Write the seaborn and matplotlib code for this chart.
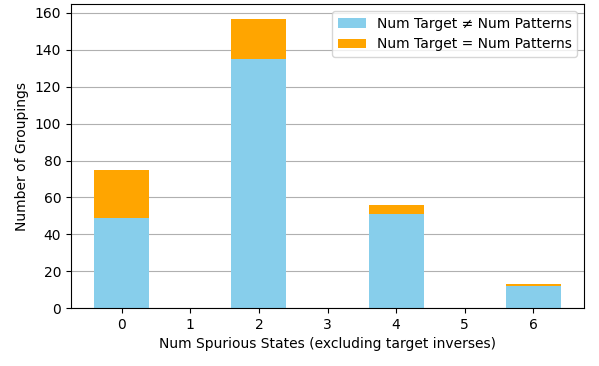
import numpy as np
import pandas as pd
import seaborn as sns
import matplotlib.pyplot as plt

spurious = [0, 2, 4, 6]
not_equal = [49, 135, 51, 12]
equal = [26, 22, 5, 1]
tick_labels = ["0", "1", "2", "3", "4", "5", "6"]

df = pd.DataFrame({"spurious": spurious, "neq": not_equal, "eq": equal})
df["total"] = df["neq"] + df["eq"]

fig, ax = plt.subplots(figsize=(5.99, 3.66), dpi=100)
ax.set_axisbelow(True)
ax.grid(axis="y", color="#b0b0b0")

sns.barplot(data=df, x="spurious", y="total", native_scale=True, width=0.4,
            color="orange", saturation=1, linewidth=0, ax=ax,
            label="Num Target = Num Patterns")
sns.barplot(data=df, x="spurious", y="neq", native_scale=True, width=0.4,
            color="skyblue", saturation=1, linewidth=0, ax=ax,
            label="Num Target \u2260 Num Patterns")

ax.set_xticks(range(len(tick_labels)))
ax.set_xticklabels(tick_labels)
ax.set_xlabel("Num Spurious States (excluding target inverses)")
ax.set_ylabel("Number of Groupings")

handles, labels = ax.get_legend_handles_labels()
ax.legend(handles[::-1], labels[::-1], loc="upper right")

fig.subplots_adjust(left=0.1185, right=0.975, top=0.989, bottom=0.158)
fig.savefig("out.png", dpi=100)
